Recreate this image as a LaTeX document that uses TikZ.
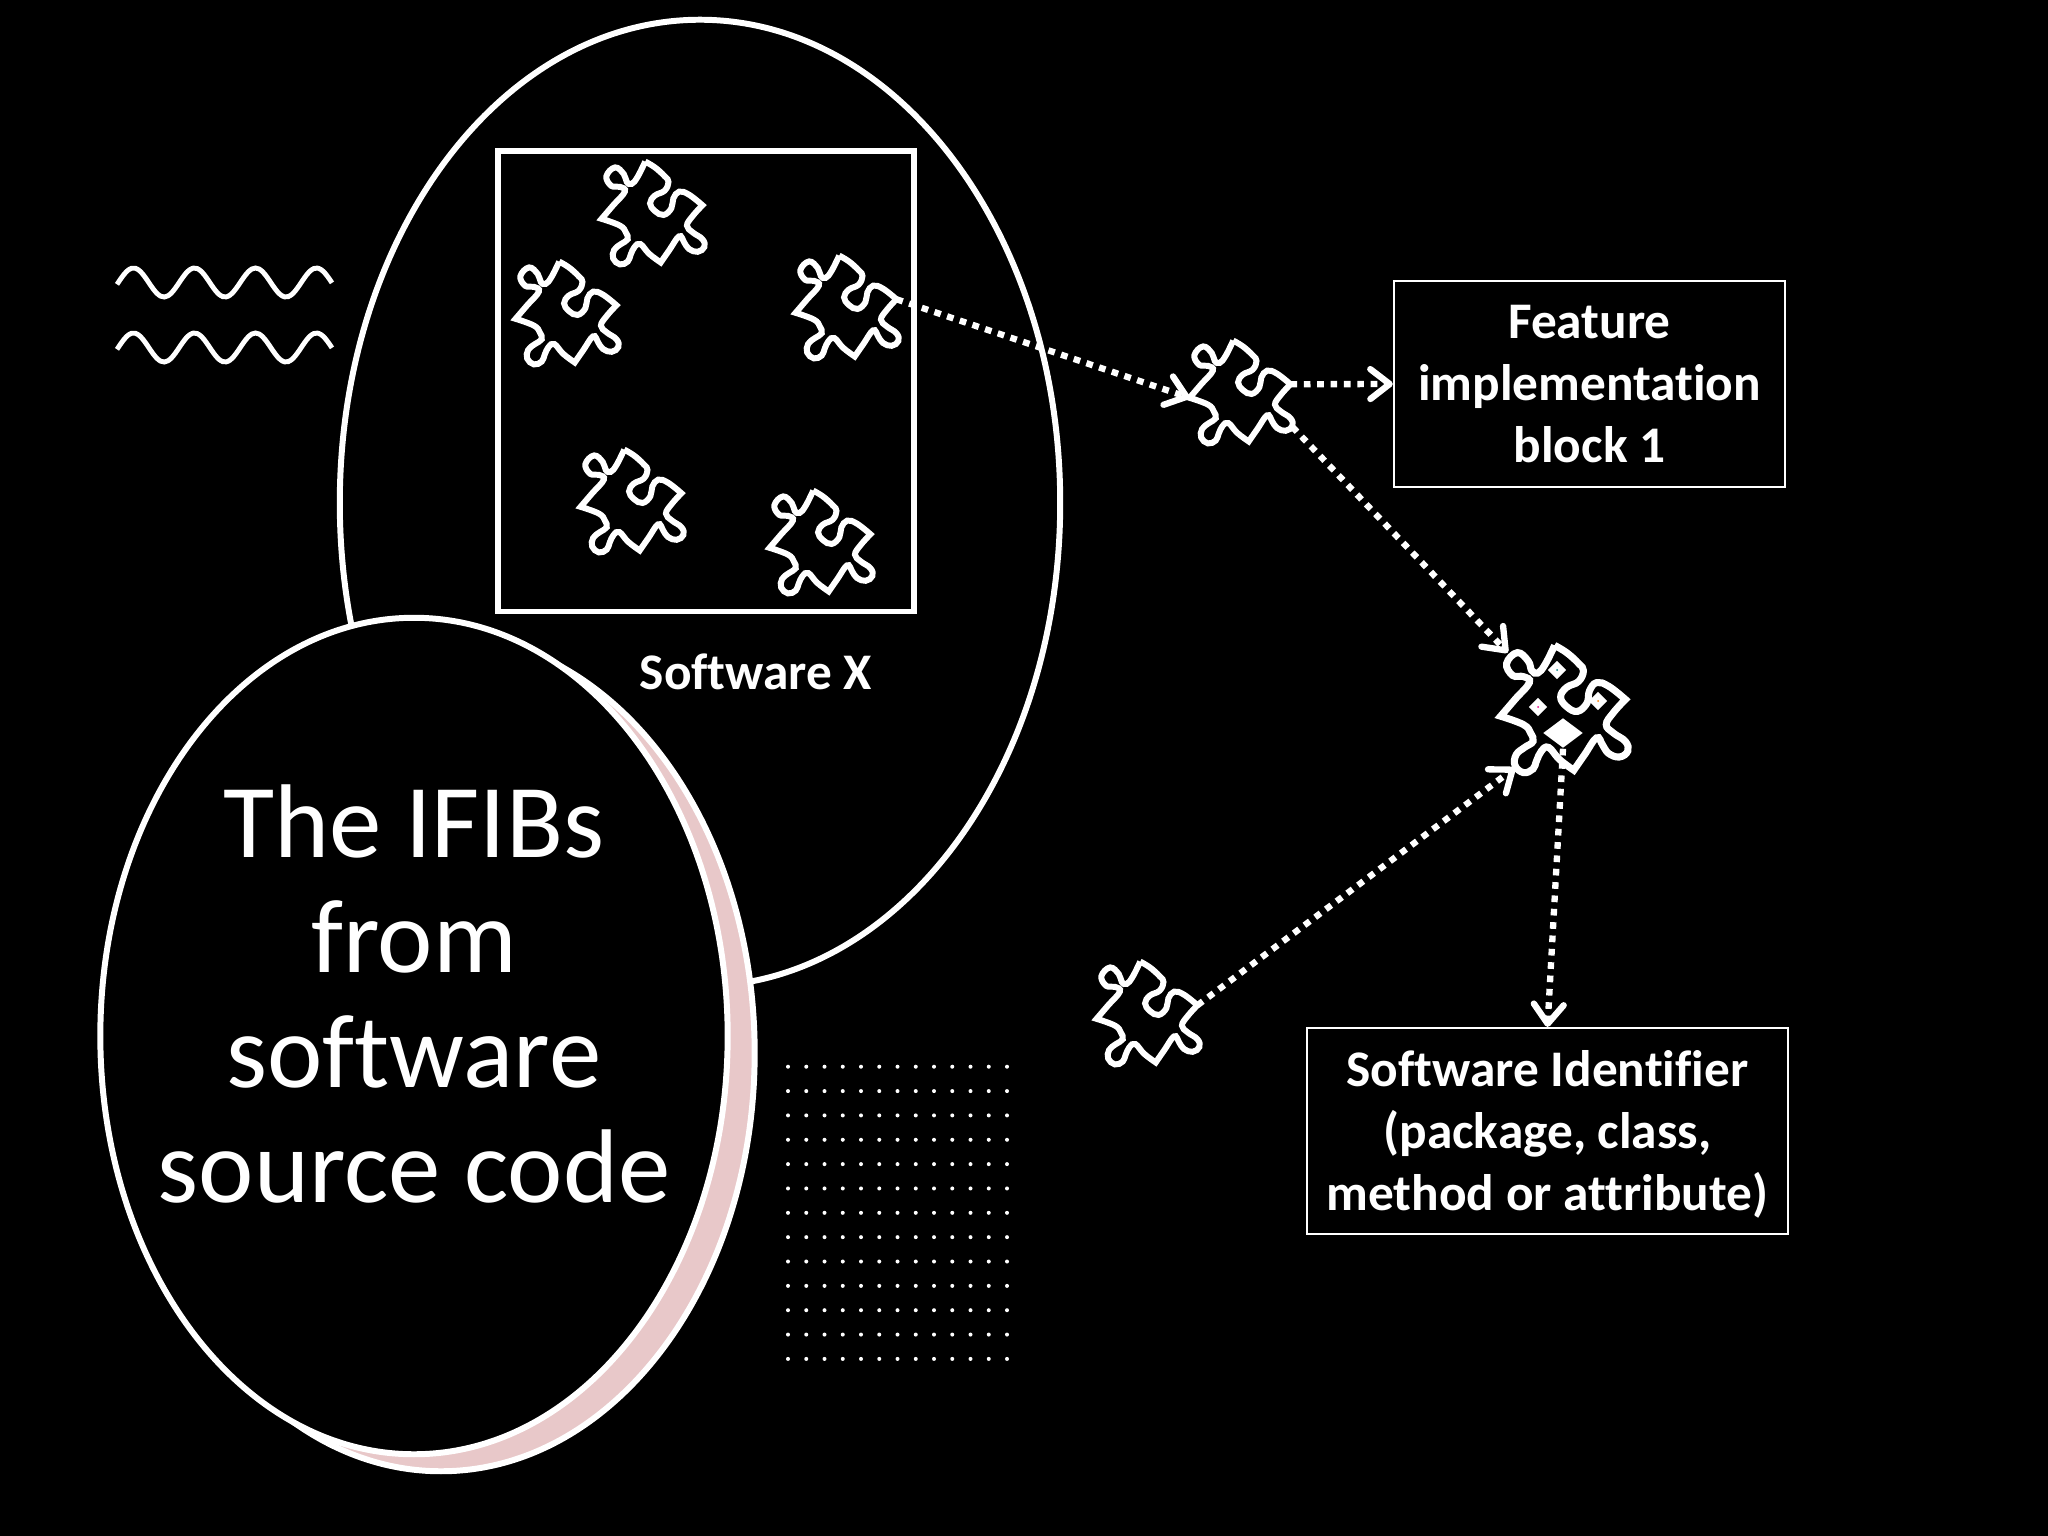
\documentclass[tikz,border=0pt]{standalone}
\usepackage{fontspec}
\setmainfont[Ligatures=NoCommon]{Carlito}
\usetikzlibrary{arrows.meta,shapes.geometric}

\definecolor{shadowpink}{HTML}{E8C8C9}

\tikzset{
	outline/.style={ellipse, draw=white, fill=black, line width=1.7pt, inner sep=0pt},
	infobox/.style={draw=white, line width=0.6pt, align=center, text=white, font=\fontsize{14.6}{17.6}\selectfont\bfseries, inner sep=0pt},
	smallpiece/.style={scale=0.97, line width=1.7pt},
	idpiece/.style={scale=1.2, line width=2pt},
	link/.style={draw=white, line width=1.8pt, dash pattern=on 1.9pt off 1.9pt, -{Straight Barb[length=5.5pt,width=8.5pt,round]}},
	spot/.style={diamond, fill=white, inner sep=0pt, minimum width=0.19cm, minimum height=0.19cm},
	puzzle/.pic={
		\draw[white]
			plot[smooth, tension=0.7] coordinates {(-7,-53) (3,-47) (13,-38) (17,-32) (13,-23) (3,-18) (-2,-10) (3,-2) (12,2) (20,-5) (22,-15) (28,-22) (38,-19) (52,-8)}
			-- plot[smooth, tension=0.7] coordinates {(52,-8) (42,3) (36,13) (42,20) (52,27) (54,35) (47,40) (38,37) (33,30) (28,24) (18,38) (9,51)}
			-- plot[smooth, tension=0.7] coordinates {(9,51) (-3,42) (-12,32) (-18,35) (-22,43) (-25,50) (-33,53) (-40,47) (-39,38) (-32,32) (-25,27) (-27,20) (-33,13) (-52,6)}
			-- plot[smooth, tension=0.7] coordinates {(-52,6) (-40,-8) (-28,-22) (-33,-27) (-42,-28) (-47,-38) (-38,-47) (-29,-40) (-26,-32) (-21,-30) (-15,-37) (-7,-53)};
		\coordinate (-left) at (-52,6);
		\coordinate (-right) at (52,-8);
		\coordinate (-knob) at (54,36);
		\coordinate (-nw) at (-46,-47);
		\coordinate (-sw) at (-40,49);
	}
}

\begin{document}
\begin{tikzpicture}[x=0.01cm, y=-0.01cm]
	% Hintergrund
	\fill[black] (0,0) rectangle (2048,1536);
	\useasboundingbox (0,0) rectangle (2048,1536);

	% Software X
	\node[outline, minimum width=7.2cm, minimum height=9.66cm] (softwarex) at (700,503) {};
	\node[draw=white, line width=1.5pt, minimum width=4.16cm, minimum height=4.6cm, inner sep=0pt] (codebox) at (706,381) {};
	\node[infobox, draw=none] (softwarelabel) at (756,672) {Software X};

	% Puzzleteile
	\foreach \n/\x/\y in {top/652/213, left/566/313, source/846/307, mid/631/501, low/820/542, block/1240/392, other/1147/1013}
		\pic[smallpiece] (\n) at (\x,\y) {puzzle};
	\pic[idpiece] (ident) at (1563,709) {puzzle};

	% Rauten im Teil
	\node[spot] (spota) at (1557,670) {};
	\node[spot] (spotb) at (1538,707) {};
	\node[spot] (spotc) at (1598,701) {};
	\node[diamond, fill=white, inner sep=0pt, minimum width=0.4cm, minimum height=0.3cm] (bigspot) at (1563,733) {};
	\fill[teal] (spota) circle (1);
	\fill[magenta] (spotb) circle (1);
	\fill[orange] (spotc) circle (1);

	% Wellen
	\foreach \y in {282.5,347.5}
		\draw[white, line width=1.4pt] plot[smooth, domain=117:332, samples=60] (\x,{\y-14.5*cos((\x-133.5)/61*360)});

	% Punktraster
	\foreach \i in {0,...,12}
		\foreach \j in {0,...,12}
			\fill[white] (788+\i*18.25,1066.7+\j*24.35) circle (2);

	% Kaesten
	\node[infobox, minimum width=3.91cm, minimum height=2.06cm] (feature) at (1589.5,384) {Feature\\implementation\\block 1};
	\node[infobox, minimum width=4.81cm, minimum height=2.06cm] (identifier) at (1547.5,1131) {\rule{0pt}{12pt}Software Identifier\\(package, class,\\method or attribute)};

	% Pfeile
	\draw[link] (source-right) -- (block-left);
	\draw[link] (block-right) -- (feature.west);
	\draw[link] (block-knob) -- (ident-nw);
	\draw[link] (other-right) -- (ident-sw);
	\draw[link] (bigspot.south) -- (identifier.north);

	% IFIBs
	\node[outline, fill=shadowpink, minimum width=6.27cm, minimum height=8.36cm] (shadow) at (441,1053) {};
	\node[outline, minimum width=6.27cm, minimum height=8.36cm] (ifibs) at (414,1036) {};
	\node[align=center, text=white, font=\fontsize{29.8}{32.7}\selectfont] (ifibslabel) at (414,993.5) {The IFIBs\\from\\software\\source code};
\end{tikzpicture}
\end{document}
